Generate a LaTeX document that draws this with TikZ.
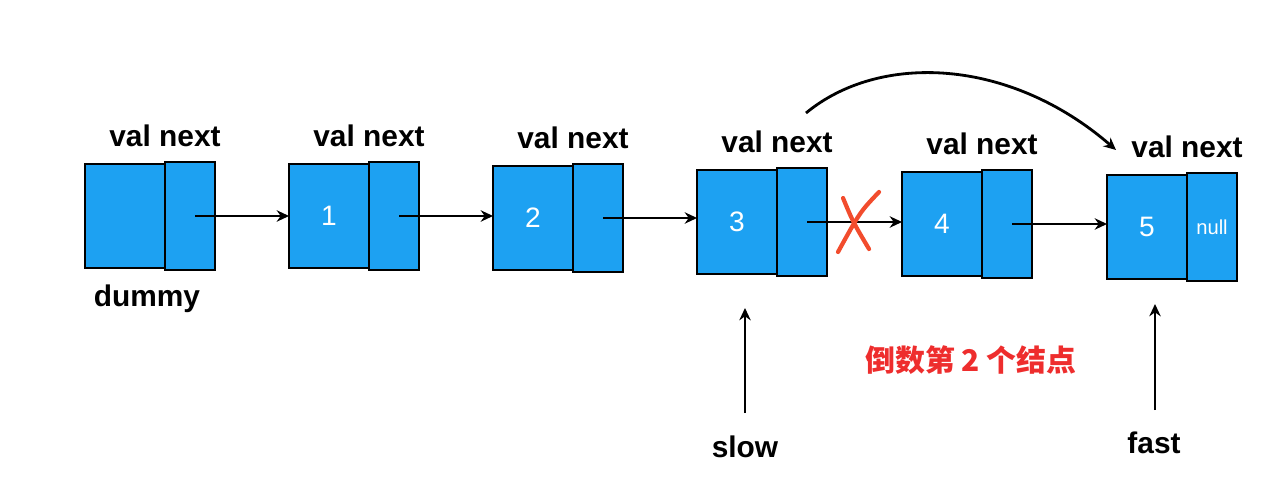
\documentclass[tikz,border=0pt]{standalone}
\usepackage{fontspec}
\setmainfont{Liberation Sans}
\newfontfamily\cjk{Noto Sans CJK SC}
\usetikzlibrary{arrows.meta}
\definecolor{nodeblue}{RGB}{29,161,242}
\definecolor{crossred}{RGB}{242,76,45}
\definecolor{textred}{RGB}{238,45,45}
\begin{document}
\begin{tikzpicture}[>={Stealth[length=7pt,width=6.5pt]},x=0.02cm,y=-0.02cm,font=\bfseries\fontsize{17}{20}\selectfont,
    valbox/.style={draw,fill=nodeblue,line width=1.6pt,outer sep=0pt,minimum width=1.6cm,minimum height=2.08cm,inner sep=0pt,text=white,font=\fontsize{16}{18}\selectfont},
    nextbox/.style={draw,fill=nodeblue,line width=1.6pt,outer sep=0pt,minimum width=1cm,minimum height=2.16cm,inner sep=0pt,text=white,font=\fontsize{11.5}{13}\selectfont},
    link/.style={->,line width=1.3pt}]
    \useasboundingbox (0,0) rectangle (1280,499);
    % the list: val box, next box, header
    \foreach \i/\jx/\cy/\val/\nxt in {0/165/216/{}/{},1/369/216/1/{},2/573/218/2/{},3/777/222/3/{},4/982/224/4/{},5/1187/227/5/null}{
        \node[valbox,anchor=east] (v\i) at (\jx,\cy) {\val};
        \node[nextbox,anchor=west] (n\i) at (\jx,\cy) {\nxt};
        \node (t\i) at (\jx,\cy-80) {val next};
    }
    \foreach \i/\j in {0/1,1/2,2/3,3/4,4/5}
        \draw[link] ([xshift=3pt]n\i.center) -- (n\i.center -| v\j.west);
    \node (dummy) at (147,299) {dummy};
    % cut link 3 -> 4
    \draw[crossred,line width=2.4pt,line cap=round] (843,198) .. controls (853,222) .. (869,249);
    \draw[crossred,line width=2.4pt,line cap=round] (879,192) .. controls (860,212) .. (838,252);
    % new link 3 -> 5
    \coordinate (skipfrom) at (806,113);
    \coordinate (skipto) at (1116,150);
    \draw[link,line width=1.6pt] (skipfrom) .. controls (880,52) and (1010,58) .. (skipto);
    % pointers
    \node (slow) at (745,447) {slow};
    \node (fast) at (1154,443) {fast};
    \coordinate (slowtip) at (745,308);
    \coordinate (fasttip) at (1155,304);
    \draw[link] (slowtip |- 0,413) -- (slowtip);
    \draw[link] (fasttip |- 0,410) -- (fasttip);
    \node[text=textred,font=\cjk\bfseries\fontsize{17}{20}\selectfont] (lbl) at (971,360) {倒数第 2 个结点};
\end{tikzpicture}
\end{document}
